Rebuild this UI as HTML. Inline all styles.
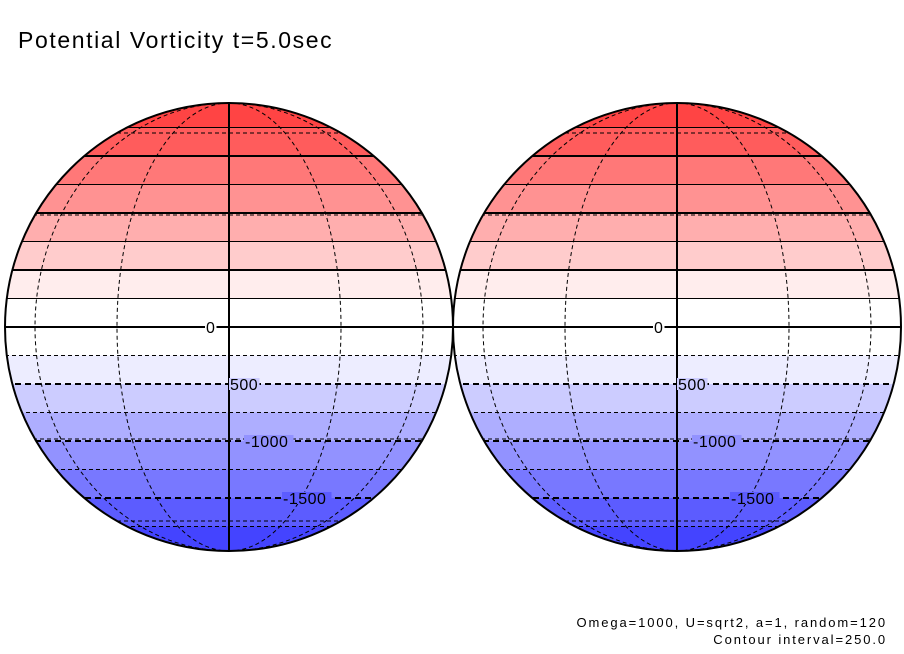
<!DOCTYPE html>
<html><head><meta charset="utf-8">
<style>
html,body{margin:0;padding:0;background:#fff;}
svg{display:block;}
text{font-family:"Liberation Sans",sans-serif;fill:#000;}
</style></head>
<body>
<svg id="chart" width="904" height="654" viewBox="0 0 904 654">
  <text x="18" y="48" font-size="23" letter-spacing="1.6">Potential Vorticity t=5.0sec</text>
  <text x="887" y="627" font-size="13" letter-spacing="1.9" text-anchor="end">Omega=1000, U=sqrt2, a=1, random=120</text>
  <text x="887" y="644" font-size="13" letter-spacing="1.9" text-anchor="end">Contour interval=250.0</text>
</svg>
<script>
// contour levels (PV) and band fill colours between them (top to bottom)
const levels = [1750, 1500, 1250, 1000, 750, 500, 250, 0, -250, -500, -750, -1000, -1250, -1500, -1750];
const bandColors = ["#ff4444","#ff5c5c","#ff7878","#ff9292","#ffaeae","#ffcccc","#ffeded","#ffffff","#ffffff","#ededff","#ccccff","#aeaeff","#9292ff","#7878ff","#5c5cff","#4444ff"];
const labelLevels = [0, -500, -1000, -1500];
const labelTexts = ["0", "500", "-1000", "-1500"];
const labelOffsets = [-23, 1, 16, 54];
const meridians = [-60, -30, 30, 60];
const parallels = [-60, -30, 30, 60];
const globeCenters = [229, 677];

const NS = "http://www.w3.org/2000/svg";
const svg = document.getElementById("chart");
const CY = 327, R = 224, PVMAX = 2000;
function yOf(pv){ return CY - pv * (28.5/250); }
function mk(tag, attrs, parent){ const e=document.createElementNS(NS,tag); for(const k in attrs) e.setAttribute(k,attrs[k]); (parent||svg).appendChild(e); return e; }

globeCenters.forEach((cx, gi) => {
  const g = mk("g", {});
  
  
  const clip = mk("clipPath", {id:"clip"+gi}, g);
  mk("circle", {cx:cx, cy:CY, r:R}, clip);
  const inner = mk("g", {"clip-path":"url(#clip"+gi+")"}, g);
  const bounds = [PVMAX*1.2].concat(levels).concat([-PVMAX*1.2]);
  for (let i=0;i<bandColors.length;i++){
    const y1 = yOf(bounds[i]), y2 = yOf(bounds[i+1]);
    const r = mk("rect", {x:cx-R, y:y1, width:2*R, height:y2-y1, fill:bandColors[i]}, inner);
    
    
  }
  parallels.forEach(p => {
    const y = CY - R*Math.sin(p*Math.PI/180);
    const l = mk("line", {x1:cx-R, x2:cx+R, y1:y, y2:y, stroke:"#000", "stroke-width":1, "stroke-dasharray":"4,3"}, inner);
    
    
  });
  meridians.forEach(m => {
    const rx = Math.abs(R*Math.sin(m*Math.PI/180));
    const sweep = m>0 ? 1 : 0;
    const d = "M"+cx+","+(CY-R)+" A"+rx+","+R+" 0 0 "+sweep+" "+cx+","+(CY+R);
    const p = mk("path", {d:d, fill:"none", stroke:"#000", "stroke-width":1, "stroke-dasharray":"4,3"}, inner);
    
    
  });
  levels.forEach(lv => {
    const y = yOf(lv);
    const thick = (lv % 500 === 0);
    const attrs = {x1:cx-R, x2:cx+R, y1:y, y2:y, stroke:"#000", "stroke-width": thick?2:1};
    if (lv < 0) attrs["stroke-dasharray"] = thick ? "6,4" : "4,3";
    const l = mk("line", attrs, inner);
    
    
  });
  const cm = mk("line", {x1:cx, x2:cx, y1:CY-R, y2:CY+R, stroke:"#000", "stroke-width":2}, g);
  
  
  labelLevels.forEach((lv, i) => {
    const x = cx + labelOffsets[i];
    const y = yOf(lv);
    const w = labelTexts[i].length * 9.5;
    mk("rect", {x:x-1, y:y-6, width:w+2, height:12, fill: bandColors[levels.indexOf(lv)+1]}, g);
    const t = mk("text", {x:x, y:y+6, "font-size":16, "letter-spacing":"0.5"}, g);
    t.textContent = labelTexts[i];
    
    
  });
  const rim = mk("circle", {cx:cx, cy:CY, r:R, fill:"none", stroke:"#000", "stroke-width":2}, g);
  
  
});
</script>
</body></html>
